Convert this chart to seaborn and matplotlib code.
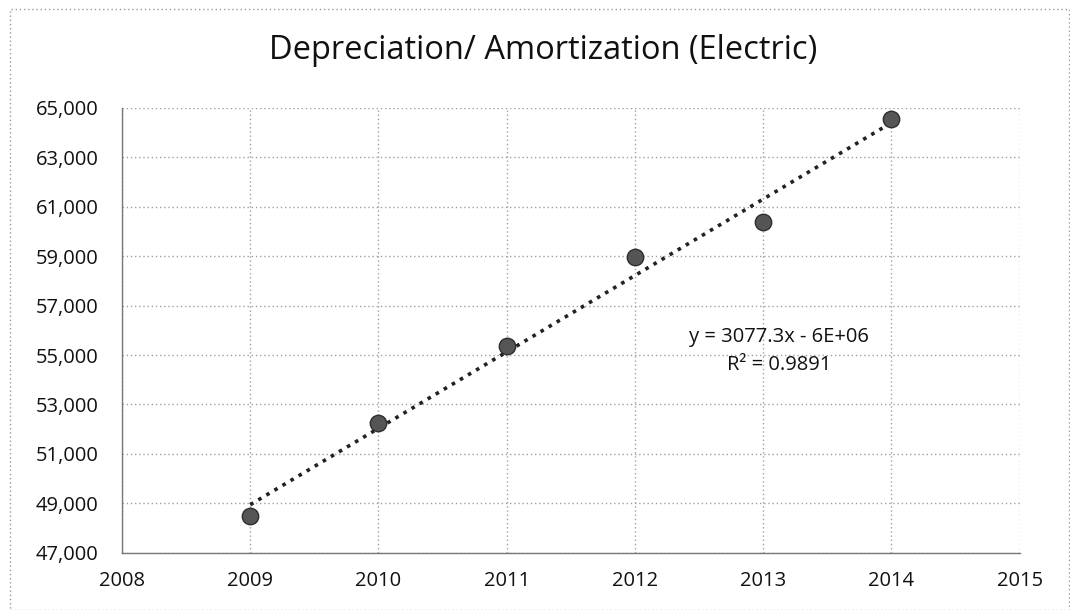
import matplotlib
matplotlib.use("Agg")
import matplotlib.pyplot as plt
from matplotlib.patches import Rectangle
from matplotlib.ticker import FuncFormatter, FixedLocator, MultipleLocator
import numpy as np
import pandas as pd
import seaborn as sns

years = [2009, 2010, 2011, 2012, 2013, 2014]
values = [48500, 52260, 55370, 58970, 60390, 64550]
y_ticks = [47000, 49000, 51000, 53000, 55000, 57000, 59000, 61000, 63000, 65000]
title = "Depreciation/ Amortization (Electric)"
equation = "y = 3077.3x - 6E+06"
r2_text = "R² = 0.9891"

sns.set_theme(style="white")
plt.rcParams['font.family'] = ['Open Sans', 'DejaVu Sans']

df = pd.DataFrame({"year": years, "value": values})

fig = plt.figure(figsize=(10.7, 6.1), dpi=100)
ax = fig.add_axes([0.114, 0.094, 0.839, 0.729])

sns.regplot(data=df, x="year", y="value", ax=ax, ci=None, truncate=True,
            scatter_kws=dict(s=140, color="#555555", edgecolor="#2e2e2e", linewidths=1.0, zorder=3, alpha=1),
            line_kws=dict(color="#222222", linestyle=(0, (1, 1.6)), linewidth=2.6, zorder=2))

ax.set_xlim(2008, 2015)
ax.set_ylim(47000, 65000)
ax.xaxis.set_major_locator(MultipleLocator(1))
ax.yaxis.set_major_locator(FixedLocator(y_ticks))
ax.yaxis.set_major_formatter(FuncFormatter(lambda v, p: f"{int(v):,}"))
ax.set_xlabel("")
ax.set_ylabel("")
ax.grid(True, color="#a0a0a0", linestyle=(0, (1, 2)), linewidth=1.0)
ax.set_axisbelow(True)
for side in ["top", "right"]:
    ax.spines[side].set_visible(False)
for side in ["left", "bottom"]:
    ax.spines[side].set_color("#777777")
    ax.spines[side].set_linewidth(1.0)
ax.tick_params(axis="both", labelsize=14.5, colors="#111111", length=0)
ax.tick_params(axis="y", pad=17)
ax.tick_params(axis="x", pad=13)

fig.text(0.508, 0.918, title, ha="center", va="center", fontsize=23.5, color="#111111")
ax.text(0.732, 0.485, equation, transform=ax.transAxes, ha="center", va="center", fontsize=14.5, color="#111111")
ax.text(0.732, 0.422, r2_text, transform=ax.transAxes, ha="center", va="center", fontsize=14.5, color="#111111")

fig.patches.append(Rectangle((0.009, 0.0), 0.99, 0.985, transform=fig.transFigure, fill=False,
                             edgecolor="#999999", linestyle=(0, (1, 2)), linewidth=1.0))

fig.savefig("out.png", dpi=100)
